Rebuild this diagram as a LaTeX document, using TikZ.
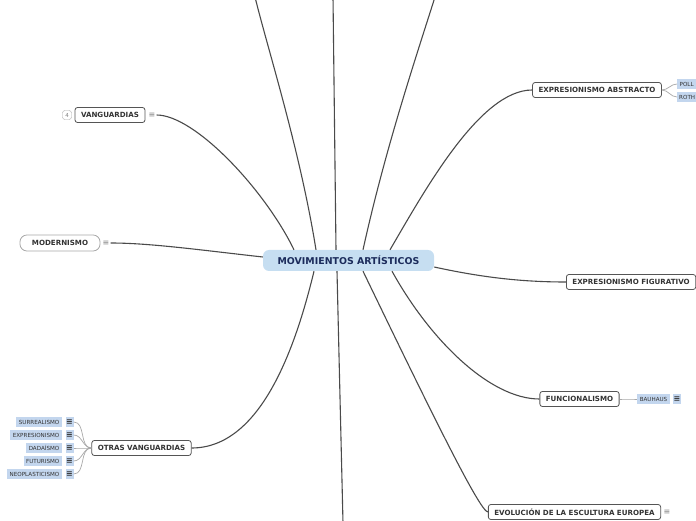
\documentclass[tikz,border=0pt]{standalone}
\usepackage{fontspec}
\setmainfont{DejaVu Sans}
\usepackage{tikz}
\usetikzlibrary{positioning}
\usepackage{xcolor}
\definecolor{rootblue}{HTML}{C6DEF1}
\definecolor{rootnavy}{HTML}{1B2B5B}
\definecolor{leafblue}{HTML}{C3D6EE}
\definecolor{branchgray}{HTML}{4A4A4A}
\definecolor{twiggray}{HTML}{A8A8A8}
\definecolor{boxgray}{HTML}{555555}
\definecolor{textgray}{HTML}{333333}

\begin{document}
\begin{tikzpicture}[x=1pt,y=1pt,
  root/.style={fill=rootblue,rounded corners=6pt,text=rootnavy,font=\fontsize{9.4}{10}\selectfont\bfseries,minimum width=171pt,minimum height=21pt,inner sep=0pt},
  topic/.style={draw=boxgray,line width=0.8pt,fill=white,rounded corners=2.5pt,text=textgray,font=\fontsize{7.1}{8}\selectfont\bfseries,minimum height=15pt,inner xsep=6pt,inner ysep=0pt},
  soft/.style={topic,draw=twiggray,rounded corners=7pt,inner xsep=12pt,minimum height=16pt},
  leaf/.style={fill=leafblue,text=textgray,font=\fontsize{5.6}{6}\selectfont,minimum height=10pt,inner xsep=2.5pt,inner ysep=0pt},
  notebox/.style={fill=leafblue,text=textgray,font=\fontsize{8}{8}\selectfont\bfseries,minimum width=8pt,minimum height=10pt,inner sep=0pt},
  note/.style={text=gray,font=\fontsize{8}{8}\selectfont,inner sep=1pt},
  badge/.style={draw=twiggray,rounded corners=2.5pt,text=gray,font=\fontsize{5.5}{6}\selectfont,minimum width=9pt,minimum height=9pt,inner sep=0pt},
  branch/.style={draw=branchgray,line width=1.1pt},
  twig/.style={draw=twiggray,line width=0.7pt}]
\clip (0,0) rectangle (696,520);

\node[root] (root) at (348.5,259.5) {MOVIMIENTOS ARTÍSTICOS};

\node[topic] (vang) at (110,405) {VANGUARDIAS};
\node[badge] (vangnum) at (67,405) {4};
\node[note] (vangnote) at (152,405) {≡};

\node[soft] (mod) at (60,277) {MODERNISMO};
\node[note] (modnote) at (106,277) {≡};

\node[topic] (expab) at (597,430) {EXPRESIONISMO ABSTRACTO};
\node[leaf,anchor=west,minimum width=19pt,inner xsep=2pt] (poll) at (677,436) {POLL};
\node[leaf,anchor=west,minimum width=19pt,inner xsep=2pt] (roth) at (677,423) {ROTH};

\node[topic,anchor=west] (expfig) at (566,238) {EXPRESIONISMO FIGURATIVO};

\node[topic] (func) at (579.5,121) {FUNCIONALISMO};
\node[leaf] (bauhaus) at (653.5,121) {BAUHAUS};
\node[notebox] (bauhausnote) at (677,121) {≡};

\node[topic] (otras) at (141.5,72) {OTRAS VANGUARDIAS};
\node[leaf,anchor=east] (surr) at (62,98) {SURREALISMO};
\node[notebox] (surrnote) at (69.5,98) {≡};
\node[leaf,anchor=east] (expr) at (62,85) {EXPRESIONISMO};
\node[notebox] (exprnote) at (69.5,85) {≡};
\node[leaf,anchor=east] (dada) at (62,72) {DADAÍSMO};
\node[notebox] (dadanote) at (69.5,72) {≡};
\node[leaf,anchor=east] (futu) at (62,59) {FUTURISMO};
\node[notebox] (futunote) at (69.5,59) {≡};
\node[leaf,anchor=east] (neo) at (62,46) {NEOPLASTICISMO};
\node[notebox] (neonote) at (69.5,46) {≡};

\node[topic] (evol) at (574.5,8) {EVOLUCIÓN DE LA ESCULTURA EUROPEA};
\node[note] (evolnote) at (667,8) {≡};

\coordinate (upl) at (255,523);
\coordinate (upm) at (333,523);
\coordinate (upr) at (435,523);
\coordinate (down) at (343,-3);

\draw[branch] ([xshift=-32.5pt]root.north) .. controls (300,370) and (268,470) .. (upl);
\draw[branch] ([xshift=-12.5pt]root.north) -- (upm);
\draw[branch] ([xshift=14.5pt]root.north) .. controls (385,370) and (415,460) .. (upr);
\draw[branch] ([xshift=-54.5pt]root.north) .. controls (265,330) and (195,405) .. (vangnote.east);
\draw[branch] ([yshift=3.5pt]root.west) .. controls (200,270) and (150,277) .. (modnote.east);
\draw[branch] ([xshift=41.5pt]root.north) .. controls (425,330) and (480,430) .. (expab.west);
\draw[branch] ([yshift=-6.5pt]root.east) .. controls (480,243) and (520,238) .. (expfig.west);
\draw[branch] ([xshift=-34.5pt]root.south) .. controls (295,170) and (260,72) .. (otras.east);
\draw[branch] ([xshift=-11.5pt]root.south) -- (down);
\draw[branch] ([xshift=14.5pt]root.south) .. controls (430,110) and (480,8) .. (evol.west);
\draw[branch] ([xshift=43.5pt]root.south) .. controls (430,180) and (490,121) .. (func.west);

\draw[twig] (expab.east) to[out=0,in=180] (poll.west);
\draw[twig] (expab.east) to[out=0,in=180] (roth.west);
\draw[twig] (func.east) to[out=0,in=180] (bauhaus.west);
\draw[twig] (otras.west) to[out=180,in=0] (surrnote.east);
\draw[twig] (otras.west) to[out=180,in=0] (exprnote.east);
\draw[twig] (otras.west) to[out=180,in=0] (dadanote.east);
\draw[twig] (otras.west) to[out=180,in=0] (futunote.east);
\draw[twig] (otras.west) to[out=180,in=0] (neonote.east);
\end{tikzpicture}
\end{document}
